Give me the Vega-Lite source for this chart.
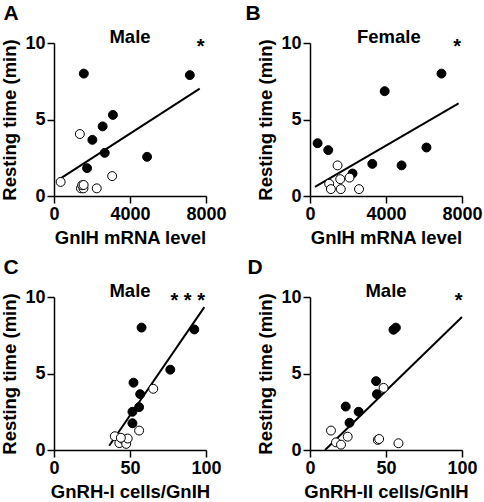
{
  "$schema": "https://vega.github.io/schema/vega-lite/v6.json",
  "padding": {"left": 0, "top": 3, "right": 0, "bottom": 0},
  "background": "white",
  "config": {
    "font": "Liberation Sans",
    "view": {"stroke": null},
    "axis": {
      "domainColor": "black", "domainWidth": 1.5, "tickColor": "black", "tickWidth": 1.5, "tickSize": 7,
      "labelFont": "Liberation Sans", "labelFontSize": 18, "labelFontWeight": "bold", "labelColor": "black",
      "titleFont": "Liberation Sans", "titleFontSize": 18.5, "titleFontWeight": "bold", "titleColor": "black",
      "grid": false, "labelPadding": 2, "titlePadding": 5, "labelFlush": false, "labelOverlap": false, "format": "d"
    }
  },
  "datasets": {
    "points": [
      {"panel": "A", "x": 1570, "y": 8.0, "type": "filled"},
      {"panel": "A", "x": 7150, "y": 7.9, "type": "filled"},
      {"panel": "A", "x": 3100, "y": 5.3, "type": "filled"},
      {"panel": "A", "x": 2560, "y": 4.55, "type": "filled"},
      {"panel": "A", "x": 2020, "y": 3.67, "type": "filled"},
      {"panel": "A", "x": 2670, "y": 2.82, "type": "filled"},
      {"panel": "A", "x": 4900, "y": 2.56, "type": "filled"},
      {"panel": "A", "x": 1740, "y": 1.82, "type": "filled"},
      {"panel": "A", "x": 1360, "y": 4.05, "type": "open"},
      {"panel": "A", "x": 350, "y": 0.92, "type": "open"},
      {"panel": "A", "x": 3060, "y": 1.3, "type": "open"},
      {"panel": "A", "x": 2250, "y": 0.5, "type": "open"},
      {"panel": "A", "x": 1420, "y": 0.5, "type": "open"},
      {"panel": "A", "x": 1550, "y": 0.5, "type": "open"},
      {"panel": "A", "x": 1480, "y": 0.7, "type": "open"},
      {"panel": "A", "x": 1560, "y": 0.72, "type": "open"},
      {"panel": "B", "x": 6920, "y": 8.0, "type": "filled"},
      {"panel": "B", "x": 3930, "y": 6.85, "type": "filled"},
      {"panel": "B", "x": 400, "y": 3.45, "type": "filled"},
      {"panel": "B", "x": 960, "y": 3.0, "type": "filled"},
      {"panel": "B", "x": 3280, "y": 2.1, "type": "filled"},
      {"panel": "B", "x": 4820, "y": 2.0, "type": "filled"},
      {"panel": "B", "x": 6130, "y": 3.17, "type": "filled"},
      {"panel": "B", "x": 2240, "y": 1.47, "type": "filled"},
      {"panel": "B", "x": 1450, "y": 2.0, "type": "open"},
      {"panel": "B", "x": 1010, "y": 0.8, "type": "open"},
      {"panel": "B", "x": 1100, "y": 0.45, "type": "open"},
      {"panel": "B", "x": 1590, "y": 1.1, "type": "open"},
      {"panel": "B", "x": 1620, "y": 0.45, "type": "open"},
      {"panel": "B", "x": 2080, "y": 1.2, "type": "open"},
      {"panel": "B", "x": 2580, "y": 0.45, "type": "open"},
      {"panel": "C", "x": 57.6, "y": 8.0, "type": "filled"},
      {"panel": "C", "x": 92.3, "y": 7.88, "type": "filled"},
      {"panel": "C", "x": 76.5, "y": 5.25, "type": "filled"},
      {"panel": "C", "x": 52.3, "y": 4.4, "type": "filled"},
      {"panel": "C", "x": 56.7, "y": 3.65, "type": "filled"},
      {"panel": "C", "x": 56, "y": 2.8, "type": "filled"},
      {"panel": "C", "x": 51.6, "y": 2.5, "type": "filled"},
      {"panel": "C", "x": 51.6, "y": 1.75, "type": "filled"},
      {"panel": "C", "x": 65.3, "y": 4.0, "type": "open"},
      {"panel": "C", "x": 56, "y": 1.27, "type": "open"},
      {"panel": "C", "x": 40, "y": 0.9, "type": "open"},
      {"panel": "C", "x": 43, "y": 0.45, "type": "open"},
      {"panel": "C", "x": 45.5, "y": 0.7, "type": "open"},
      {"panel": "C", "x": 47.5, "y": 0.4, "type": "open"},
      {"panel": "C", "x": 48.5, "y": 0.75, "type": "open"},
      {"panel": "C", "x": 44, "y": 0.8, "type": "open"},
      {"panel": "D", "x": 54.9, "y": 7.86, "type": "filled"},
      {"panel": "D", "x": 56.5, "y": 8.0, "type": "filled"},
      {"panel": "D", "x": 43.5, "y": 4.5, "type": "filled"},
      {"panel": "D", "x": 44, "y": 3.65, "type": "filled"},
      {"panel": "D", "x": 23.5, "y": 2.84, "type": "filled"},
      {"panel": "D", "x": 32, "y": 2.5, "type": "filled"},
      {"panel": "D", "x": 26, "y": 1.78, "type": "filled"},
      {"panel": "D", "x": 48.4, "y": 4.06, "type": "open"},
      {"panel": "D", "x": 13.8, "y": 1.27, "type": "open"},
      {"panel": "D", "x": 17.1, "y": 0.5, "type": "open"},
      {"panel": "D", "x": 20.4, "y": 0.35, "type": "open"},
      {"panel": "D", "x": 24.8, "y": 0.87, "type": "open"},
      {"panel": "D", "x": 44.6, "y": 0.66, "type": "open"},
      {"panel": "D", "x": 45.5, "y": 0.72, "type": "open"},
      {"panel": "D", "x": 58.2, "y": 0.44, "type": "open"}
    ],
    "fits": [
      {"panel": "A", "x": 350, "y": 1.15},
      {"panel": "A", "x": 7670, "y": 7.02},
      {"panel": "B", "x": 262, "y": 0.59},
      {"panel": "B", "x": 7822, "y": 6.06},
      {"panel": "C", "x": 36.3, "y": 0.28},
      {"panel": "C", "x": 98.9, "y": 9.34},
      {"panel": "D", "x": 9.9, "y": 0},
      {"panel": "D", "x": 100, "y": 8.69}
    ],
    "labels": [
      {"panel": "A", "letter": "A", "title": "Male", "sig": "*"},
      {"panel": "B", "letter": "B", "title": "Female", "sig": "*"},
      {"panel": "C", "letter": "C", "title": "Male", "sig": "* * *"},
      {"panel": "D", "letter": "D", "title": "Male", "sig": "*"}
    ]
  },
  "columns": 2,
  "spacing": {"row": 101, "column": 104},
  "bounds": "flush",
  "concat": [
    {
      "width": 152, "height": 153,
      "layer": [
        {"data": {"name": "fits"}, "transform": [{"filter": "datum.panel === 'A'"}],
         "mark": {"type": "line", "color": "black", "strokeWidth": 2},
         "encoding": {
           "x": {"field": "x", "type": "quantitative", "scale": {"domain": [0, 8000], "nice": false}, "axis": {"title": "GnIH mRNA level", "values": [0, 4000, 8000]}},
           "y": {"field": "y", "type": "quantitative", "scale": {"domain": [0, 10], "nice": false}, "axis": {"title": "Resting time (min)", "values": [0, 5, 10]}}
         }},
        {"data": {"name": "points"}, "transform": [{"filter": "datum.panel === 'A'"}],
         "mark": {"type": "circle", "size": 80, "stroke": "black", "strokeWidth": 1, "opacity": 1},
         "encoding": {
           "x": {"field": "x", "type": "quantitative"},
           "y": {"field": "y", "type": "quantitative"},
           "fill": {"field": "type", "type": "nominal", "scale": {"domain": ["filled", "open"], "range": ["black", "white"]}, "legend": null}
         }},
        {"data": {"name": "labels"}, "transform": [{"filter": "datum.panel === 'A'"}],
         "mark": {"type": "text", "fontSize": 18.5, "fontWeight": "bold", "baseline": "alphabetic", "align": "center", "color": "black"},
         "encoding": {"x": {"datum": 4000}, "y": {"datum": 10}, "text": {"field": "title"}}},
        {"data": {"name": "labels"}, "transform": [{"filter": "datum.panel === 'A'"}],
         "mark": {"type": "text", "fontSize": 20, "fontWeight": "bold", "baseline": "alphabetic", "align": "center", "color": "black", "dy": 10},
         "encoding": {"x": {"datum": 7720}, "y": {"datum": 10}, "text": {"field": "sig"}}},
        {"data": {"name": "labels"}, "transform": [{"filter": "datum.panel === 'A'"}],
         "mark": {"type": "text", "fontSize": 21, "fontWeight": "bold", "baseline": "alphabetic", "align": "center", "color": "black", "dx": -43, "dy": -23},
         "encoding": {"x": {"datum": 0}, "y": {"datum": 10}, "text": {"field": "letter"}}}
      ]
    },
    {
      "width": 152, "height": 153,
      "layer": [
        {"data": {"name": "fits"}, "transform": [{"filter": "datum.panel === 'B'"}],
         "mark": {"type": "line", "color": "black", "strokeWidth": 2},
         "encoding": {
           "x": {"field": "x", "type": "quantitative", "scale": {"domain": [0, 8000], "nice": false}, "axis": {"title": "GnIH mRNA level", "values": [0, 4000, 8000]}},
           "y": {"field": "y", "type": "quantitative", "scale": {"domain": [0, 10], "nice": false}, "axis": {"title": "Resting time (min)", "values": [0, 5, 10]}}
         }},
        {"data": {"name": "points"}, "transform": [{"filter": "datum.panel === 'B'"}],
         "mark": {"type": "circle", "size": 80, "stroke": "black", "strokeWidth": 1, "opacity": 1},
         "encoding": {
           "x": {"field": "x", "type": "quantitative"},
           "y": {"field": "y", "type": "quantitative"},
           "fill": {"field": "type", "type": "nominal", "scale": {"domain": ["filled", "open"], "range": ["black", "white"]}, "legend": null}
         }},
        {"data": {"name": "labels"}, "transform": [{"filter": "datum.panel === 'B'"}],
         "mark": {"type": "text", "fontSize": 18.5, "fontWeight": "bold", "baseline": "alphabetic", "align": "center", "color": "black"},
         "encoding": {"x": {"datum": 4150}, "y": {"datum": 10}, "text": {"field": "title"}}},
        {"data": {"name": "labels"}, "transform": [{"filter": "datum.panel === 'B'"}],
         "mark": {"type": "text", "fontSize": 20, "fontWeight": "bold", "baseline": "alphabetic", "align": "center", "color": "black", "dy": 10},
         "encoding": {"x": {"datum": 7740}, "y": {"datum": 10}, "text": {"field": "sig"}}},
        {"data": {"name": "labels"}, "transform": [{"filter": "datum.panel === 'B'"}],
         "mark": {"type": "text", "fontSize": 21, "fontWeight": "bold", "baseline": "alphabetic", "align": "center", "color": "black", "dx": -57, "dy": -23},
         "encoding": {"x": {"datum": 0}, "y": {"datum": 10}, "text": {"field": "letter"}}}
      ]
    },
    {
      "width": 152, "height": 153,
      "layer": [
        {"data": {"name": "fits"}, "transform": [{"filter": "datum.panel === 'C'"}],
         "mark": {"type": "line", "color": "black", "strokeWidth": 2},
         "encoding": {
           "x": {"field": "x", "type": "quantitative", "scale": {"domain": [0, 100], "nice": false}, "axis": {"title": "GnRH-I cells/GnIH", "values": [0, 50, 100]}},
           "y": {"field": "y", "type": "quantitative", "scale": {"domain": [0, 10], "nice": false}, "axis": {"title": "Resting time (min)", "values": [0, 5, 10]}}
         }},
        {"data": {"name": "points"}, "transform": [{"filter": "datum.panel === 'C'"}],
         "mark": {"type": "circle", "size": 80, "stroke": "black", "strokeWidth": 1, "opacity": 1},
         "encoding": {
           "x": {"field": "x", "type": "quantitative"},
           "y": {"field": "y", "type": "quantitative"},
           "fill": {"field": "type", "type": "nominal", "scale": {"domain": ["filled", "open"], "range": ["black", "white"]}, "legend": null}
         }},
        {"data": {"name": "labels"}, "transform": [{"filter": "datum.panel === 'C'"}],
         "mark": {"type": "text", "fontSize": 18.5, "fontWeight": "bold", "baseline": "alphabetic", "align": "center", "color": "black"},
         "encoding": {"x": {"datum": 50}, "y": {"datum": 10}, "text": {"field": "title"}}},
        {"data": {"name": "labels"}, "transform": [{"filter": "datum.panel === 'C'"}],
         "mark": {"type": "text", "fontSize": 20, "fontWeight": "bold", "baseline": "alphabetic", "align": "center", "color": "black", "dy": 10},
         "encoding": {"x": {"datum": 88}, "y": {"datum": 10}, "text": {"field": "sig"}}},
        {"data": {"name": "labels"}, "transform": [{"filter": "datum.panel === 'C'"}],
         "mark": {"type": "text", "fontSize": 21, "fontWeight": "bold", "baseline": "alphabetic", "align": "center", "color": "black", "dx": -43, "dy": -23},
         "encoding": {"x": {"datum": 0}, "y": {"datum": 10}, "text": {"field": "letter"}}}
      ]
    },
    {
      "width": 152, "height": 153,
      "layer": [
        {"data": {"name": "fits"}, "transform": [{"filter": "datum.panel === 'D'"}],
         "mark": {"type": "line", "color": "black", "strokeWidth": 2},
         "encoding": {
           "x": {"field": "x", "type": "quantitative", "scale": {"domain": [0, 100], "nice": false}, "axis": {"title": "GnRH-II cells/GnIH", "values": [0, 50, 100]}},
           "y": {"field": "y", "type": "quantitative", "scale": {"domain": [0, 10], "nice": false}, "axis": {"title": "Resting time (min)", "values": [0, 5, 10]}}
         }},
        {"data": {"name": "points"}, "transform": [{"filter": "datum.panel === 'D'"}],
         "mark": {"type": "circle", "size": 80, "stroke": "black", "strokeWidth": 1, "opacity": 1},
         "encoding": {
           "x": {"field": "x", "type": "quantitative"},
           "y": {"field": "y", "type": "quantitative"},
           "fill": {"field": "type", "type": "nominal", "scale": {"domain": ["filled", "open"], "range": ["black", "white"]}, "legend": null}
         }},
        {"data": {"name": "labels"}, "transform": [{"filter": "datum.panel === 'D'"}],
         "mark": {"type": "text", "fontSize": 18.5, "fontWeight": "bold", "baseline": "alphabetic", "align": "center", "color": "black"},
         "encoding": {"x": {"datum": 50}, "y": {"datum": 10}, "text": {"field": "title"}}},
        {"data": {"name": "labels"}, "transform": [{"filter": "datum.panel === 'D'"}],
         "mark": {"type": "text", "fontSize": 20, "fontWeight": "bold", "baseline": "alphabetic", "align": "center", "color": "black", "dy": 10},
         "encoding": {"x": {"datum": 97.8}, "y": {"datum": 10}, "text": {"field": "sig"}}},
        {"data": {"name": "labels"}, "transform": [{"filter": "datum.panel === 'D'"}],
         "mark": {"type": "text", "fontSize": 21, "fontWeight": "bold", "baseline": "alphabetic", "align": "center", "color": "black", "dx": -55, "dy": -23},
         "encoding": {"x": {"datum": 0}, "y": {"datum": 10}, "text": {"field": "letter"}}}
      ]
    }
  ]
}
